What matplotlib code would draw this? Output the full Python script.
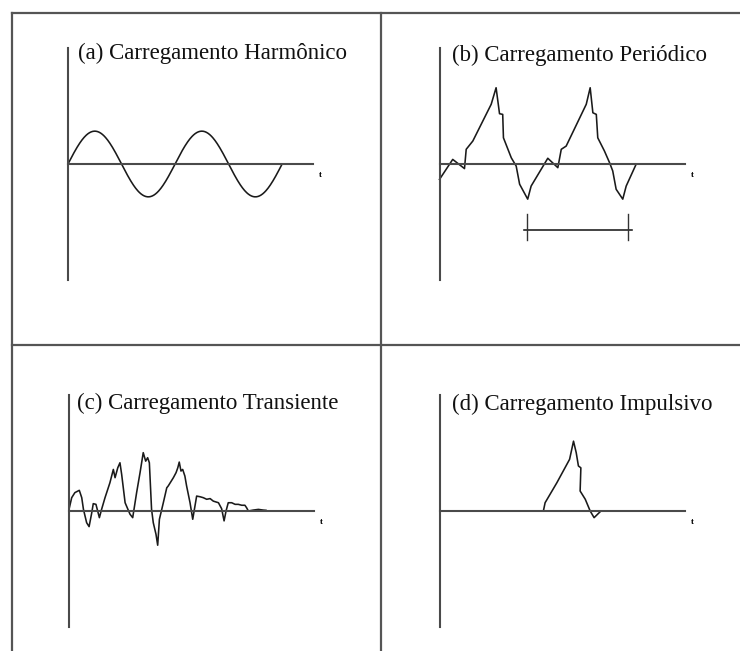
import numpy as np
import matplotlib
matplotlib.use("Agg")
import matplotlib.pyplot as plt

plt.rcParams["font.family"] = ["Liberation Serif", "DejaVu Serif"]

# titulos dos quadros
titulos = [
    "(a) Carregamento Harmônico",
    "(b) Carregamento Periódico",
    "(c) Carregamento Transiente",
    "(d) Carregamento Impulsivo",
]

# (a) carregamento harmonico: amplitude, periodo e numero de ciclos
amp_harm = 1.43
periodo_harm = 4.37
ciclos_harm = 2

# (b) carregamento periodico (dois ciclos)
t_per = [0.00, 0.54, 1.02, 1.09, 1.36, 2.11, 2.31, 2.45, 2.58, 2.61, 2.93, 3.13,
         3.27, 3.60, 3.74, 4.42, 4.83, 4.97, 5.17, 5.99, 6.15, 6.26, 6.40, 6.46,
         6.73, 6.94, 7.07, 7.21, 7.48, 7.62, 8.03]
p_per = [-0.67, 0.20, -0.20, 0.64, 1.00, 2.60, 3.32, 2.19, 2.16, 1.14, 0.27, -0.09,
         -0.88, -1.53, -0.96, 0.25, -0.16, 0.64, 0.78, 2.60, 3.32, 2.23, 2.16, 1.14,
         0.57, 0.06, -0.30, -1.10, -1.53, -0.96, 0.00]
# marcacao do periodo
periodo_ini, periodo_fim = 3.59, 7.69
periodo_y = -2.87

# (c) carregamento transiente
t_tr = [0.00, 0.11, 0.24, 0.42, 0.52, 0.59, 0.72, 0.82, 0.93, 0.99, 1.10, 1.17,
        1.24, 1.33, 1.47, 1.67, 1.81, 1.88, 1.99, 2.08, 2.15, 2.29, 2.49, 2.60,
        2.76, 2.90, 3.03, 3.13, 3.21, 3.28, 3.37, 3.44, 3.55, 3.62, 3.69, 3.85,
        3.99, 4.05, 4.26, 4.37, 4.44, 4.50, 4.57, 4.64, 4.73, 4.80, 4.94, 5.05,
        5.21, 5.35, 5.48, 5.62, 5.76, 5.89, 6.10, 6.23, 6.33, 6.41, 6.50, 6.64,
        6.78, 6.91, 7.05, 7.18, 7.25, 7.32, 7.52, 7.73, 7.93, 8.04]
p_tr = [0.07, 0.58, 0.80, 0.90, 0.58, 0.07, -0.51, -0.68, -0.07, 0.32, 0.29, 0.00,
        -0.29, 0.07, 0.58, 1.23, 1.81, 1.45, 1.88, 2.10, 1.59, 0.36, -0.14, -0.29,
        0.80, 1.67, 2.54, 2.17, 2.32, 2.10, 0.07, -0.51, -1.01, -1.49, -0.36, 0.36,
        1.01, 1.09, 1.45, 1.67, 1.88, 2.13, 1.74, 1.81, 1.52, 1.09, 0.36, -0.36,
        0.65, 0.62, 0.58, 0.51, 0.54, 0.43, 0.36, 0.10, -0.43, 0.00, 0.36, 0.36,
        0.29, 0.29, 0.25, 0.25, 0.14, 0.00, 0.04, 0.07, 0.04, 0.03]

# (d) carregamento impulsivo
t_imp = [4.24, 4.31, 4.79, 5.31, 5.47, 5.58, 5.67, 5.77, 5.74, 5.95, 6.15, 6.31, 6.56]
p_imp = [0.00, 0.36, 1.23, 2.25, 3.04, 2.54, 1.96, 1.88, 0.87, 0.51, 0.00, -0.29, -0.03]

W, H = 740, 651
fig = plt.figure(figsize=(W / 100, H / 100), dpi=100)

# moldura da tabela
frame = fig.add_axes([0, 0, 1, 1])
frame.set_xlim(0, W)
frame.set_ylim(H, 0)
frame.axis("off")
cor_moldura = "#555555"
frame.plot([12, 12], [13, H], color=cor_moldura, lw=1.6)
frame.plot([12, W], [13, 13], color=cor_moldura, lw=1.6)
frame.plot([381, 381], [13, H], color=cor_moldura, lw=1.6)
frame.plot([12, W], [345, 345], color=cor_moldura, lw=1.6)

# posicao (pixels) da origem de cada quadro: x do eixo vertical, y do topo
origens = [(68, 48), (439.5, 48), (69, 395), (439.5, 395)]
largura, altura = 245, 232

axs = []
for (x0, y0) in origens:
    ax = fig.add_axes([x0 / W, (H - y0 - altura) / H, largura / W, altura / H])
    ax.set_xlim(0, 10)
    ax.set_ylim(-5.05, 5.05)
    for s in ["top", "right"]:
        ax.spines[s].set_visible(False)
    ax.spines["bottom"].set_position(("data", 0))
    for s in ["left", "bottom"]:
        ax.spines[s].set_color("#4a4a4a")
        ax.spines[s].set_linewidth(1.5)
    ax.set_xticks([])
    ax.set_yticks([])
    ax.patch.set_alpha(0)
    ax.text(10.32, -0.48, "t", fontsize=6.5, fontweight="bold", ha="center", va="center")
    axs.append(ax)

estilo = dict(color="#1a1a1a", lw=1.15, clip_on=False)

t_h = np.linspace(0, ciclos_harm * periodo_harm, 400)
axs[0].plot(t_h, amp_harm * np.sin(2 * np.pi * t_h / periodo_harm), **estilo)

axs[1].plot(t_per, p_per, **estilo)
axs[1].plot([periodo_ini - 0.16, periodo_fim + 0.16], [periodo_y, periodo_y], **estilo)
for xt in (periodo_ini, periodo_fim):
    axs[1].plot([xt, xt], [periodo_y + 0.7, periodo_y - 0.45], color="#333333", lw=1.0, clip_on=False)

axs[2].plot(t_tr, p_tr, **estilo)
axs[3].plot(t_imp, p_imp, **estilo)

# titulos
pos_titulos = [(78, 53), (452, 55), (77, 403), (452, 404)]
for (xt, yt), txt in zip(pos_titulos, titulos):
    fig.text(xt / W, (H - yt) / H, txt, fontsize=16.5, ha="left", va="center", color="#111111")

fig.savefig("out.png", dpi=100)
